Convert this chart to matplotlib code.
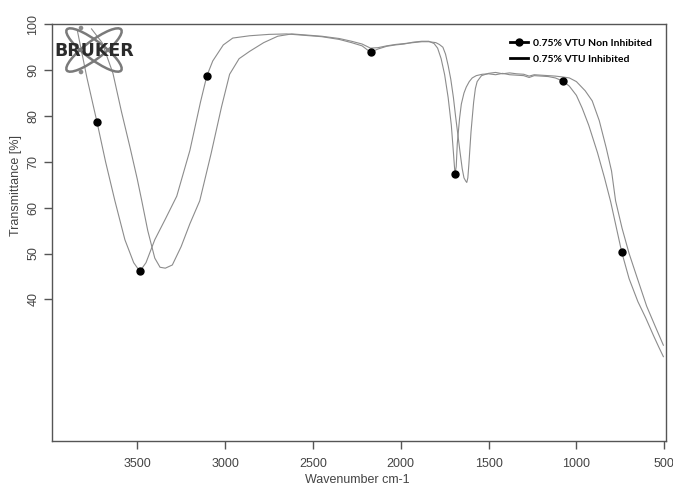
"""
FTIR-Spektrum: 0.75% VTU, nicht inhibiert vs. inhibiert (Bruker-Stil).
"""

import matplotlib
matplotlib.use("Agg")
import matplotlib.pyplot as plt
from matplotlib.lines import Line2D
from matplotlib.patches import Ellipse, Circle

# ---------------------------------------------------------------------------
# Daten
# ---------------------------------------------------------------------------

non_inh_wn = [3840, 3786, 3729, 3680, 3627, 3570, 3520, 3485, 3450, 3400,
              3340, 3275, 3200, 3140, 3104, 3070, 3010, 2956, 2860, 2750,
              2650, 2550, 2450, 2350, 2280, 2220, 2172, 2130, 2080, 2030,
              1980, 1930, 1880, 1840, 1810, 1790, 1770, 1750, 1730, 1712,
              1700, 1691, 1684, 1678, 1665, 1655, 1640, 1627, 1610, 1593,
              1570, 1536, 1500, 1460, 1420, 1380, 1340, 1300, 1269, 1240,
              1200, 1160, 1120, 1076, 1040, 1000, 967, 930, 880, 840,
              805, 742, 700, 650, 606, 560, 530, 505]
non_inh_t = [98.5, 88.3, 78.7, 70.0, 61.5, 53.0, 48.0, 46.1, 48.0, 53.0,
             57.5, 62.5, 72.5, 83.0, 88.7, 92.0, 95.5, 97.0, 97.5, 97.8,
             97.9, 97.6, 97.3, 96.7, 96.0, 95.3, 93.9, 94.6, 95.2, 95.5,
             95.7, 96.1, 96.3, 96.3, 95.8, 94.8, 92.5, 89.0, 84.0, 78.0,
             72.0, 67.3, 69.0, 74.0, 79.5, 82.6, 85.0, 86.3, 87.5, 88.3,
             88.8, 89.1, 89.2, 89.0, 89.3, 89.0, 88.9, 88.8, 88.4, 88.8,
             88.7, 88.6, 88.3, 87.6, 86.5, 84.5, 81.7, 78.0, 72.0, 66.5,
             61.3, 50.3, 44.5, 39.5, 36.0, 32.0, 29.5, 27.5]

inh_wn = [3760, 3700, 3638, 3590, 3540, 3500, 3474, 3440, 3400, 3370,
          3340, 3300, 3250, 3200, 3144, 3080, 3020, 2974, 2920, 2860,
          2780, 2700, 2620, 2550, 2450, 2350, 2280, 2220, 2172, 2130,
          2080, 2030, 1980, 1930, 1880, 1840, 1800, 1780, 1760, 1745,
          1730, 1715, 1700, 1688, 1675, 1662, 1650, 1640, 1630, 1624,
          1618, 1612, 1606, 1600, 1592, 1585, 1575, 1565, 1550, 1540,
          1500, 1460, 1420, 1380, 1340, 1300, 1269, 1240, 1200, 1160,
          1120, 1076, 1040, 1000, 950, 910, 870, 830, 800, 777,
          740, 700, 655, 600, 550, 505]
inh_t = [99.0, 96.0, 89.3, 81.0, 73.0, 66.3, 61.5, 55.0, 49.0, 47.0,
         46.8, 47.5, 51.5, 56.5, 61.5, 71.7, 82.0, 89.1, 92.5, 94.1,
         96.0, 97.4, 97.9, 97.7, 97.4, 96.9, 96.3, 95.7, 94.8, 94.9,
         95.3, 95.6, 95.8, 96.0, 96.2, 96.2, 96.0, 95.6, 95.0, 93.5,
         91.0, 88.0, 84.0, 80.0, 76.0, 72.0, 68.5, 66.5, 65.8, 65.5,
         66.5, 69.5, 73.0, 76.5, 80.0, 83.0, 86.0, 87.5, 88.3, 88.8,
         89.3, 89.5, 89.2, 89.4, 89.2, 89.1, 88.7, 89.0, 88.9, 88.8,
         88.7, 88.5, 88.3, 87.5, 85.5, 83.3, 79.0, 73.0, 68.0, 61.5,
         55.5, 50.0, 44.8, 38.5, 34.0, 30.0]

# Markierungspunkte der nicht inhibierten Kurve
marker_wn = [3729, 3485, 3104, 2172, 1691, 1076, 742]
marker_t = [78.7, 46.1, 88.7, 93.9, 67.3, 87.6, 50.3]

x_ticks = [3500, 3000, 2500, 2000, 1500, 1000, 500]
y_ticks = [40, 50, 60, 70, 80, 90, 100]

label_non_inh = "0.75% VTU Non Inhibited"
label_inh = "0.75% VTU Inhibited"

# ---------------------------------------------------------------------------
# Plot
# ---------------------------------------------------------------------------

W, H = 673, 487
fig = plt.figure(figsize=(W / 100, H / 100), dpi=100)
ax = fig.add_axes([52 / W, 1 - 441 / H, (666 - 52) / W, (441 - 24.3) / H])

curve_color = "#8c8c8c"
ax.plot(non_inh_wn, non_inh_t, color=curve_color, lw=0.8)
ax.plot(inh_wn, inh_t, color=curve_color, lw=0.8)
ax.plot(marker_wn, marker_t, "o", color="black", ms=5, ls="none", zorder=3)

ax.set_xlim(3985, 490)
ax.set_ylim(9.1, 99.8)
ax.set_xticks(x_ticks)
ax.set_yticks(y_ticks)

tick_font = {"family": "Liberation Sans", "size": 9}
for spine in ax.spines.values():
    spine.set_color("#555555")
    spine.set_linewidth(1.0)
ax.tick_params(axis="both", colors="#555555", labelcolor="#444444",
               length=6, width=1.0)
ax.tick_params(axis="x", pad=6)
ax.tick_params(axis="y", pad=3, labelrotation=90)
for lbl in ax.get_xticklabels() + ax.get_yticklabels():
    lbl.set_fontfamily("Liberation Sans")
    lbl.set_fontsize(9)
for lbl in ax.get_yticklabels():
    lbl.set_va("center")

ax.set_xlabel("Wavenumber cm-1", fontdict=tick_font, color="#444444")
ax.set_ylabel("Transmittance [%]", fontdict=tick_font, color="#444444")
ax.xaxis.set_label_coords(0.497, -0.078)
ax.yaxis.set_label_coords(-0.049, 0.614)

handles = [
    Line2D([], [], color="black", lw=2, marker="o", ms=5),
    Line2D([], [], color="black", lw=2),
]
leg = ax.legend(handles, [label_non_inh, label_inh], loc="upper right",
                bbox_to_anchor=(0.985, 0.978), frameon=False,
                handlelength=1.8, handletextpad=0.4, labelspacing=0.6,
                borderpad=0, prop={"family": "Lato", "weight": "bold",
                                   "size": 7.5})

# Bruker-Logo oben links
logo = fig.add_axes([50 / W, 1 - 78 / H, 90 / W, 56 / H])
logo.set_xlim(50, 140)
logo.set_ylim(78, 22)
logo.axis("off")
logo.patch.set_alpha(0)
for ang in (37, -37):
    logo.add_patch(Ellipse((94, 50), 68, 18, angle=ang, fill=False,
                           edgecolor="#7a7a7a", lw=1.8))
for cy in (28, 72):
    logo.add_patch(Circle((81, cy), 1.6, color="#8a8a8a"))
logo.text(94, 51, "BRUKER", ha="center", va="center", fontsize=12.5,
          fontweight="bold", family="DejaVu Sans", color="#2b2b2b",
          zorder=5)

fig.savefig("out.png", dpi=100)
